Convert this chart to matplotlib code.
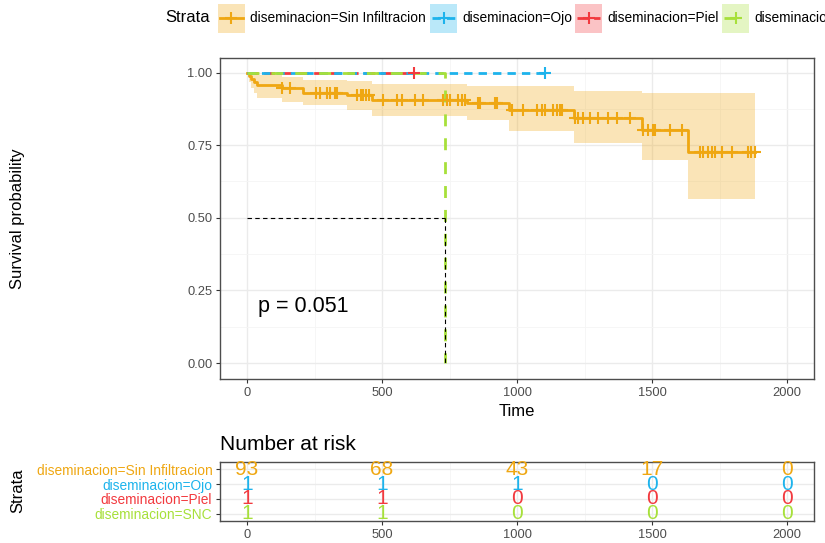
import numpy as np
import matplotlib.pyplot as plt
from matplotlib.patches import Rectangle
from matplotlib.lines import Line2D

plt.rcParams['font.family'] = ['Liberation Sans', 'DejaVu Sans']

W, H = 825, 543

strata = ['diseminacion=Sin Infiltracion', 'diseminacion=Ojo',
          'diseminacion=Piel', 'diseminacion=SNC']
colors = ['#EFA712', '#1DB3EC', '#F23A3F', '#A7E03A']

# Sin Infiltracion: KM step curve with confidence band
sin_time = [0, 8, 16, 26, 38, 128, 207, 369, 462, 813, 970, 1212, 1462, 1635, 1882]
sin_surv = [1.0, 0.989, 0.978, 0.968, 0.957, 0.947, 0.929, 0.922, 0.906, 0.895,
            0.872, 0.842, 0.802, 0.727, 0.727]
sin_upper = [1.0, 1.0, 1.0, 0.999, 0.99, 0.985, 0.975, 0.97, 0.96, 0.955,
             0.953, 0.938, 0.929, 0.929, 0.929]
sin_lower = [1.0, 0.968, 0.948, 0.93, 0.912, 0.9, 0.889, 0.87, 0.85, 0.835,
             0.80, 0.758, 0.698, 0.565, 0.565]
sin_cens = [128, 159, 255, 270, 296, 307, 326, 333, 406, 421, 430, 441, 450, 504,
            554, 573, 622, 652, 726, 740, 752, 781, 795, 807, 856, 863, 919, 926,
            980, 1022, 1073, 1091, 1104, 1133, 1147, 1159, 1165, 1215, 1226, 1245,
            1270, 1300, 1337, 1370, 1419, 1467, 1485, 1504, 1511, 1567, 1610, 1678,
            1690, 1709, 1721, 1733, 1758, 1795, 1857, 1866, 1882]

ojo_time = [0, 1104]
ojo_surv = [1.0, 1.0]
piel_time = [0, 619]
piel_surv = [1.0, 1.0]
snc_time = [0, 733, 733]
snc_surv = [1.0, 1.0, 0.0]

median_time = 733
pval = 'p = 0.051'

risk_times = [0, 500, 1000, 1500, 2000]
risk_sin = [93, 68, 43, 17, 0]
risk_ojo = [1, 1, 1, 0, 0]
risk_piel = [1, 1, 0, 0, 0]
risk_snc = [1, 1, 0, 0, 0]

dash_styles = ['-', (0, (3, 2.2)), (0, (4, 2)), (0, (4.3, 4.3))]


def px_axes(left, top, right, bottom):
    return [left / W, 1 - bottom / H, (right - left) / W, (bottom - top) / H]


def style_axes(ax):
    ax.set_facecolor('white')
    for s in ax.spines.values():
        s.set_color('#4d4d4d')
        s.set_linewidth(1.0)
    ax.tick_params(colors='#333333', labelcolor='#4d4d4d', length=3, width=0.8,
                   labelsize=9.3, pad=2.5)
    ax.grid(True, which='major', color='#EBEBEB', lw=1.0, zorder=0)
    ax.grid(True, which='minor', color='#F5F5F5', lw=0.6, zorder=0)
    ax.tick_params(which='minor', length=0)
    ax.set_axisbelow(True)


fig = plt.figure(figsize=(W / 100, H / 100), dpi=100)

# ---- main survival panel
ax = fig.add_axes(px_axes(220, 58, 814, 379))
style_axes(ax)
ax.set_xlim(-100, 2100)
ax.set_ylim(-0.055, 1.05)
ax.set_xticks([0, 500, 1000, 1500, 2000])
ax.set_xticks([250, 750, 1250, 1750], minor=True)
ax.set_yticks([0, 0.25, 0.5, 0.75, 1.0])
ax.set_yticklabels(['0.00', '0.25', '0.50', '0.75', '1.00'])
ax.set_yticks([0.125, 0.375, 0.625, 0.875], minor=True)

ax.fill_between(sin_time, sin_lower, sin_upper, step='post',
                color=colors[0], alpha=0.3, lw=0, zorder=2)
ax.step(sin_time, sin_surv, where='post', color=colors[0], lw=2, zorder=3)
idx = np.searchsorted(sin_time, sin_cens, side='right') - 1
ax.plot(sin_cens, np.array(sin_surv)[idx], ls='none', marker='+', ms=8,
        mew=1.5, color=colors[0], zorder=4)

ax.step(piel_time, piel_surv, where='post', color=colors[2], lw=2,
        ls=dash_styles[2], zorder=3)
ax.plot(piel_time[-1], piel_surv[-1], marker='+', ms=9, mew=1.5, color=colors[2], zorder=4)
ax.step(ojo_time, ojo_surv, where='post', color=colors[1], lw=2,
        ls=dash_styles[1], zorder=3)
ax.plot(ojo_time[-1], ojo_surv[-1], marker='+', ms=9, mew=1.5, color=colors[1], zorder=4)
ax.plot(snc_time, snc_surv, color=colors[3], lw=2, ls=dash_styles[3], zorder=3)

ax.plot([0, median_time], [0.5, 0.5], color='black', lw=0.8, ls=(0, (4, 3)), zorder=5)
ax.plot([median_time, median_time], [0.5, 0], color='black', lw=0.8, ls=(0, (4, 3)), zorder=5)

ax.text(40, 0.195, pval, fontsize=15.5, ha='left', va='center', color='black')
ax.set_xlabel('Time', fontsize=12, labelpad=4)
fig.text(18 / W, 1 - 219 / H, 'Survival probability', rotation=90,
         fontsize=12, ha='center', va='center')

# ---- legend at top
fig.text(165 / W, 1 - 18 / H, 'Strata', fontsize=12, ha='left', va='center')
key_x = [218, 430, 575, 722]
for i, (lab, c) in enumerate(zip(strata, colors)):
    x0 = key_x[i]
    fig.patches.append(Rectangle((x0 / W, 1 - 33 / H), 27 / W, 29 / H,
                                 transform=fig.transFigure, color=c, alpha=0.3, lw=0))
    fig.lines.append(Line2D([(x0 + 2) / W, (x0 + 25) / W], [1 - 18 / H, 1 - 18 / H],
                            transform=fig.transFigure, color=c, lw=2, ls=dash_styles[i]))
    fig.lines.append(Line2D([(x0 + 13.5) / W], [1 - 18 / H], transform=fig.transFigure,
                            color=c, marker='+', ms=8, mew=1.5))
    fig.text((x0 + 32) / W, 1 - 18 / H, lab, fontsize=9.9, ha='left', va='center')

# ---- risk table
rx = fig.add_axes(px_axes(220, 462, 814, 521))
style_axes(rx)
rx.set_xlim(-100, 2100)
rx.set_ylim(0.5, 4.5)
rx.set_xticks([0, 500, 1000, 1500, 2000])
rx.set_xticks([250, 750, 1250, 1750], minor=True)
rows = [4, 3, 2, 1]
rx.set_yticks(rows)
rx.set_yticklabels(strata)
for tl, c in zip(rx.get_yticklabels(), colors):
    tl.set_color(c)
    tl.set_fontsize(9.9)
for row, vals, c in zip(rows, [risk_sin, risk_ojo, risk_piel, risk_snc], colors):
    for t, v in zip(risk_times, vals):
        rx.text(t, row, str(v), color=c, fontsize=15, ha='center', va='center')
rx.set_title('Number at risk', fontsize=15, loc='left', pad=9)
fig.text(18 / W, 1 - 491 / H, 'Strata', rotation=90, fontsize=12,
         ha='center', va='center')

fig.savefig('out.png', dpi=100, facecolor='white')
